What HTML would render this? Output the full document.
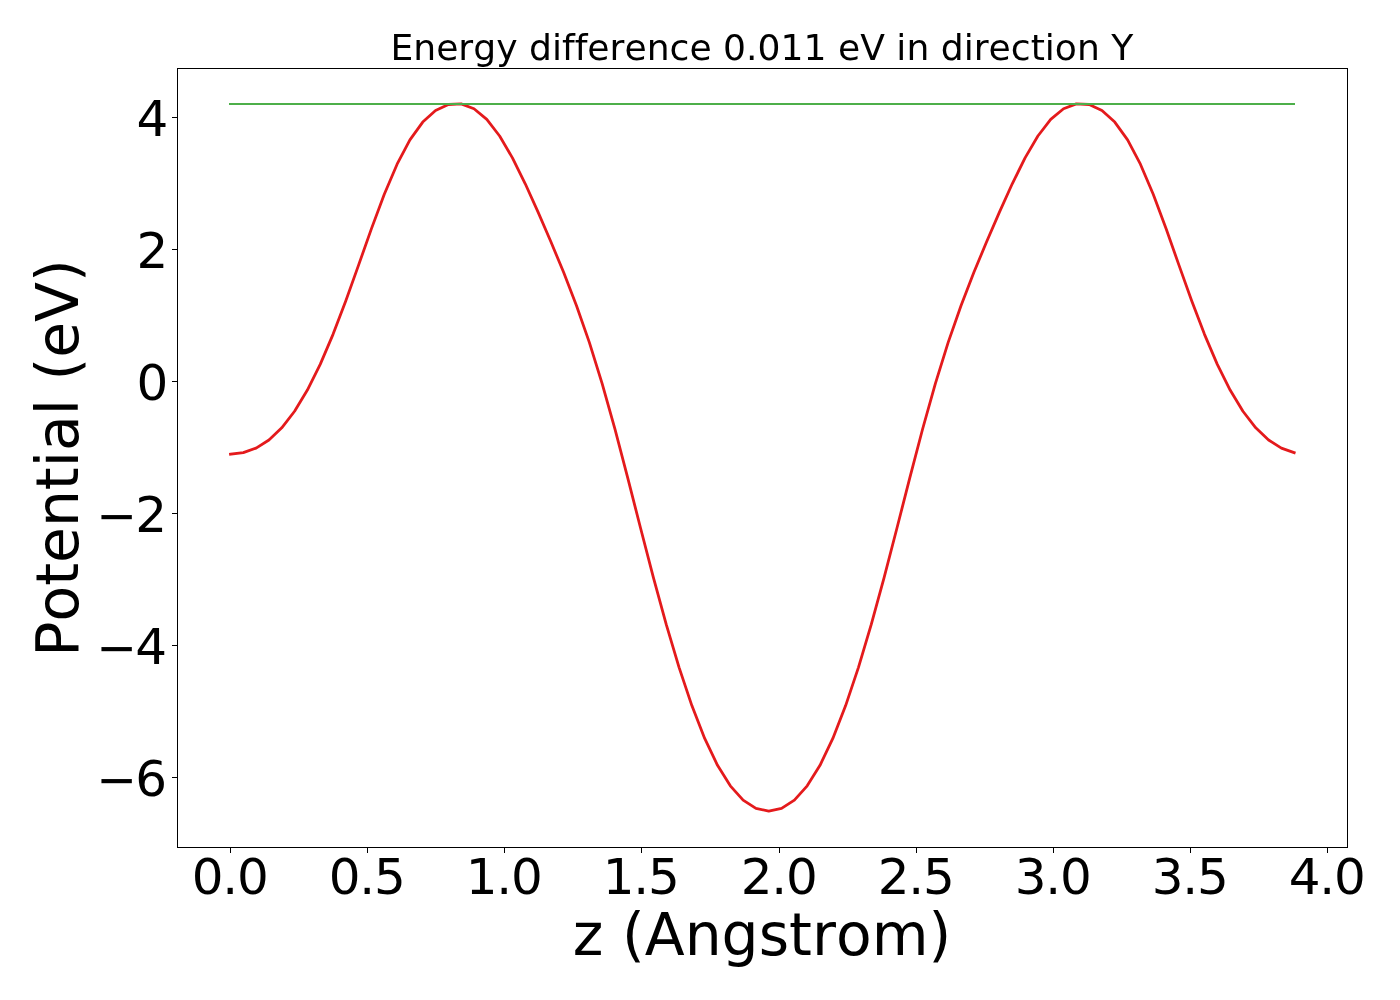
<!DOCTYPE html>
<html lang="en">
<head>
<meta charset="utf-8">
<title>Energy difference 0.011 eV in direction Y</title>
<style>
html,body{margin:0;padding:0;background:#fff;}
body{width:1400px;height:1000px;overflow:hidden;}
svg{display:block;}
text{font-family:"DejaVu Sans","Liberation Sans",sans-serif;fill:#000;font-variant-ligatures:none;font-kerning:none;}
.tk{font-size:50px;}
.lb{font-size:58.33px;}
.tt{font-size:36.11px;}
</style>
</head>
<body>
<svg width="1400" height="1000" viewBox="0 0 1400 1000">
<rect x="0" y="0" width="1400" height="1000" fill="#ffffff"/>
<polyline fill="none" stroke="#e41a1c" stroke-width="2.78" stroke-linejoin="round" stroke-linecap="square" points="230.50,454.13 243.32,452.66 256.13,448.08 268.95,439.97 281.76,427.82 294.58,411.26 307.39,390.09 320.21,364.35 333.03,334.33 345.84,300.74 358.66,264.86 371.47,228.61 384.29,194.32 397.10,164.22 409.92,139.93 422.73,122.07 435.55,110.45 448.37,104.51 461.18,103.90 474.00,108.74 486.81,119.40 499.63,135.99 512.44,157.91 525.26,183.80 538.08,212.10 550.89,241.72 563.71,272.59 576.52,305.68 589.34,342.36 602.15,383.57 614.97,429.23 627.79,478.12 640.60,528.27 653.42,577.60 666.23,624.38 679.05,667.35 691.86,705.60 704.68,738.43 717.50,765.28 730.31,785.82 743.13,800.09 755.94,808.40 768.76,811.12 781.57,808.40 794.39,800.09 807.20,785.82 820.02,765.28 832.84,738.43 845.65,705.60 858.47,667.35 871.28,624.38 884.10,577.60 896.91,528.27 909.73,478.12 922.55,429.23 935.36,383.57 948.18,342.36 960.99,305.68 973.81,272.59 986.62,241.72 999.44,212.10 1012.26,183.80 1025.07,157.91 1037.89,135.99 1050.70,119.40 1063.52,108.74 1076.33,103.90 1089.15,104.51 1101.97,110.45 1114.78,122.07 1127.60,139.93 1140.41,164.22 1153.23,194.32 1166.04,228.61 1178.86,264.86 1191.67,300.74 1204.49,334.33 1217.31,364.35 1230.12,390.09 1242.94,411.26 1255.75,427.82 1268.57,439.97 1281.38,448.08 1294.20,452.66"/>
<line x1="230" y1="104" x2="1294" y2="104" stroke="#4daf4a" stroke-width="2" stroke-linecap="square"/>
<g stroke="#000" stroke-width="1.1" shape-rendering="crispEdges">
<line x1="230.5" y1="847.5" x2="230.5" y2="853"/>
<line x1="367.5" y1="847.5" x2="367.5" y2="853"/>
<line x1="504.5" y1="847.5" x2="504.5" y2="853"/>
<line x1="641.5" y1="847.5" x2="641.5" y2="853"/>
<line x1="779.5" y1="847.5" x2="779.5" y2="853"/>
<line x1="916.5" y1="847.5" x2="916.5" y2="853"/>
<line x1="1053.5" y1="847.5" x2="1053.5" y2="853"/>
<line x1="1190.5" y1="847.5" x2="1190.5" y2="853"/>
<line x1="1327.5" y1="847.5" x2="1327.5" y2="853"/>
<line x1="172" y1="117.5" x2="177.5" y2="117.5"/>
<line x1="172" y1="249.5" x2="177.5" y2="249.5"/>
<line x1="172" y1="381.5" x2="177.5" y2="381.5"/>
<line x1="172" y1="513.5" x2="177.5" y2="513.5"/>
<line x1="172" y1="645.5" x2="177.5" y2="645.5"/>
<line x1="172" y1="777.5" x2="177.5" y2="777.5"/>
</g>
<rect x="177.5" y="68.5" width="1170" height="779" fill="none" stroke="#000" stroke-width="1.1" shape-rendering="crispEdges"/>
<g class="tk" text-anchor="middle">
<text x="230.2" y="894.3" textLength="77" lengthAdjust="spacing">0.0</text>
<text x="367.2" y="894.3" textLength="77" lengthAdjust="spacing">0.5</text>
<text x="504.2" y="894.3" textLength="77" lengthAdjust="spacing">1.0</text>
<text x="641.2" y="894.3" textLength="77" lengthAdjust="spacing">1.5</text>
<text x="779.2" y="894.3" textLength="77" lengthAdjust="spacing">2.0</text>
<text x="916.2" y="894.3" textLength="77" lengthAdjust="spacing">2.5</text>
<text x="1053.2" y="894.3" textLength="77" lengthAdjust="spacing">3.0</text>
<text x="1190.2" y="894.3" textLength="77" lengthAdjust="spacing">3.5</text>
<text x="1327.2" y="894.3" textLength="77" lengthAdjust="spacing">4.0</text>
</g>
<g class="tk" text-anchor="end">
<text x="168.29999999999998" y="135.7">4</text>
<text x="168.29999999999998" y="267.7">2</text>
<text x="168.29999999999998" y="399.7">0</text>
<text y="531.7"><tspan x="137.2" dy="1.6" textLength="40.7" lengthAdjust="spacingAndGlyphs">−</tspan><tspan x="167.1" dy="-1.6">2</tspan></text>
<text y="663.7"><tspan x="137.2" dy="1.6" textLength="40.7" lengthAdjust="spacingAndGlyphs">−</tspan><tspan x="167.1" dy="-1.6">4</tspan></text>
<text y="795.7"><tspan x="137.2" dy="1.6" textLength="40.7" lengthAdjust="spacingAndGlyphs">−</tspan><tspan x="167.1" dy="-1.6">6</tspan></text>
</g>
<text class="tt" text-anchor="middle" x="761.9" y="59.8" textLength="742.9" lengthAdjust="spacing">Energy difference 0.011 eV in direction Y</text>
<text class="lb" text-anchor="middle" x="762.0" y="955.0" textLength="378.5" lengthAdjust="spacing">z (Angstrom)</text>
<text class="lb" text-anchor="middle" transform="translate(78.2,458.0) rotate(-90)" textLength="397.4" lengthAdjust="spacing">Potential (eV)</text>
</svg>
</body>
</html>
